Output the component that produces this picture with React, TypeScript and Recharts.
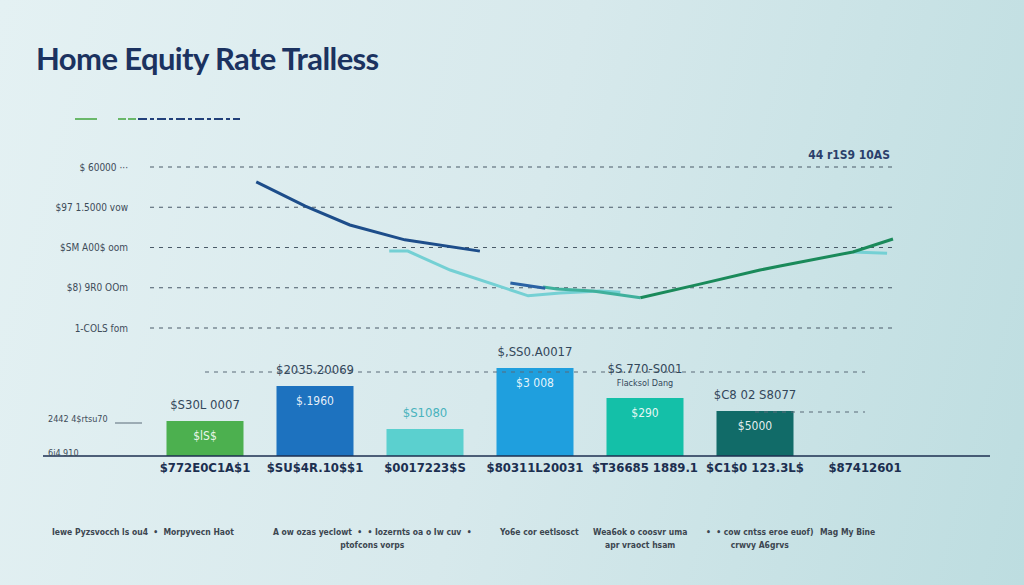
import React from "react";
import {
  Bar,
  BarChart,
  CartesianGrid,
  Cell,
  LabelList,
  Line,
  LineChart,
  ReferenceLine,
  XAxis,
  YAxis,
} from "recharts";

// top chart: rate by week (x 0..100), rate index (1..5)
const rateTicks = [1, 2, 3, 4, 5];
const rateTickLabels = ["1-COLS  fom", "$8) 9R0 OOm", "$SM A00$ oom", "$97 1.5000 vow", "$ 60000 ···"];

const navyWeeks = [14.3, 20.9, 26.9, 34.3, 44.4];
const navyRates = [4.63, 4.03, 3.56, 3.19, 2.91];

const navyShortWeeks = [48.5, 53.2];
const navyShortRates = [2.12, 1.99];

const cyanWeeks = [32.2, 34.7, 40.4, 50.9, 55.2, 60.6, 63.3];
const cyanRates = [2.91, 2.91, 2.44, 1.8, 1.87, 1.92, 1.89];

const cyanTailWeeks = [94.6, 99.2];
const cyanTailRates = [2.89, 2.86];

const tealWeeks = [52.9, 54.8, 59.6, 66];
const tealRates = [2.02, 1.97, 1.92, 1.75];

const greenWeeks = [66, 74, 82.1, 84.8, 94.6, 100];
const greenRates = [1.75, 2.09, 2.44, 2.54, 2.89, 3.21];

// bottom chart
const categories = [
  "$772E0C1A$1",
  "$SU$4R.10$$1",
  "$0017223$S",
  "$80311L20031",
  "$T36685 1889.1",
  "$C1$0 123.3L$",
  "$87412601",
];
const amounts = [35, 70, 27, 88, 58, 45, 0];
const topLabels = [
  "$S30L 0007",
  "$2035.20069",
  "$S1080",
  "$,SS0.A0017",
  "$S.770-S001",
  "$C8 02 S8077",
  "$S90's S0l0",
];
const subLabels = ["", "", "", "", "Flacksol Dang", "", ""];
const innerLabels = ["$lS$", "$.1960", "", "$3 008", "$290", "$5000", ""];
const amountTicks = [3, 37];
const amountTickLabels: Record<number, string> = { 3: "6i4 910", 37: "2442 4$rtsu70" };

const footerItems = [
  ["Iewe Pyzsvocch ls ou4  •  Morpyvecn Haot"],
  ["A ow ozas yeclowt  •  • Iozernts oa o Iw cuv  •", "ptofcons vorps"],
  ["Yo6e cor eetlsosct"],
  ["Wea6ok o coosvr uma", "apr vraoct hsam"],
  ["•  • cow cntss eroe euof)", "crwvy A6grvs"],
  ["Mag My Bine"],
];

const BAR_COLORS = ["#4cb04f", "#1d72bf", "#5bd0cf", "#1f9fde", "#14c0a8", "#116b68", "#116b68"];
const FONT = "'Liberation Sans Narrow', 'DejaVu Sans Condensed', Arial, sans-serif";

const toPoints = (weeks: number[], rates: number[]) =>
  weeks.map((week, i) => ({ week, rate: rates[i] }));

const barData = categories.map((name, i) => ({
  name,
  amount: amounts[i],
  top: topLabels[i],
  sub: subLabels[i],
  inner: innerLabels[i],
}));

function TopLabel(props: any) {
  const { x, y, width, index } = props;
  const row = barData[index];
  const cx = x + width / 2;
  const color = index === 2 ? "#48b3bd" : "#33475a";
  return (
    <g fontFamily={FONT}>
      <text x={cx} y={row.sub ? y - 25 : y - 12} textAnchor="middle" fontSize={13} fill={color}>
        {row.top}
      </text>
      {row.sub && (
        <text x={cx} y={y - 12} textAnchor="middle" fontSize={9} fill="#33475a">
          {row.sub}
        </text>
      )}
    </g>
  );
}

function InnerLabel(props: any) {
  const { x, y, width, index } = props;
  const row = barData[index];
  if (!row.inner) return null;
  return (
    <text
      x={x + width / 2}
      y={y + 19}
      textAnchor="middle"
      fontSize={12}
      fontFamily={FONT}
      fill="#ffffff"
      fillOpacity={0.9}
    >
      {row.inner}
    </text>
  );
}

function AmountTick(props: any) {
  const { y, payload } = props;
  const label = amountTickLabels[payload.value];
  return (
    <g>
      <text x={48} y={y + 3} fontSize={9} fontFamily={FONT} fill="#3d4b58">
        {label}
      </text>
      {payload.value === 37 && (
        <line x1={115} x2={142} y1={y + 4} y2={y + 4} stroke="#5a6a78" strokeWidth={1} />
      )}
    </g>
  );
}

export default function App() {
  return (
    <div
      style={{
        position: "absolute",
        left: 0,
        top: 0,
        width: 1024,
        height: 585,
        overflow: "hidden",
        background: "linear-gradient(105deg, #e4f1f3 0%, #d7e9ec 50%, #bddde0 100%)",
        fontFamily: FONT,
      }}
    >
      <div
        style={{
          position: "absolute",
          left: 36,
          top: 39,
          fontFamily: "Lato, 'Open Sans', sans-serif",
          fontWeight: 700,
          fontSize: 31,
          letterSpacing: -0.6,
          color: "#1b3260",
        }}
      >
        Home Equity Rate Tralless
      </div>

      <svg style={{ position: "absolute", left: 0, top: 110 }} width={260} height={20}>
        <line x1={75} x2={97} y1={9} y2={9} stroke="#6ab86a" strokeWidth={2} />
        <line x1={118} x2={136} y1={9} y2={9} stroke="#6ab86a" strokeWidth={2} strokeDasharray="8 2" />
        <line x1={138} x2={240} y1={9} y2={9} stroke="#22407a" strokeWidth={2} strokeDasharray="9 3 4 3" />
      </svg>

      <div
        style={{
          position: "absolute",
          right: 1024 - 890,
          top: 148,
          fontSize: 12,
          fontWeight: 700,
          color: "#2b3f6b",
        }}
      >
        44 r1S9 10AS
      </div>

      <div style={{ position: "absolute", left: 0, top: 150 }}>
        <LineChart width={1024} height={200} margin={{ top: 17, right: 131, bottom: 22, left: 0 }}>
          <CartesianGrid
            horizontal
            vertical={false}
            stroke="#4a5a68"
            strokeWidth={1.2}
            strokeDasharray="4 5"
          />
          <XAxis type="number" dataKey="week" domain={[0, 100]} hide allowDuplicatedCategory={false} />
          <YAxis
            type="number"
            domain={[1, 5]}
            ticks={rateTicks}
            width={150}
            axisLine={false}
            tickLine={false}
            tickSize={0}
            tickMargin={22}
            tick={{ fontSize: 10, fill: "#3d4b58", fontFamily: FONT }}
            tickFormatter={(v) => rateTickLabels[rateTicks.indexOf(Number(v))]}
          />
          <Line data={toPoints(cyanWeeks, cyanRates)} dataKey="rate" stroke="#74d0d4" strokeWidth={3} dot={false} isAnimationActive={false} />
          <Line data={toPoints(cyanTailWeeks, cyanTailRates)} dataKey="rate" stroke="#74d0d4" strokeWidth={3} dot={false} isAnimationActive={false} />
          <Line data={toPoints(tealWeeks, tealRates)} dataKey="rate" stroke="#3fb09c" strokeWidth={3} dot={false} isAnimationActive={false} />
          <Line data={toPoints(navyShortWeeks, navyShortRates)} dataKey="rate" stroke="#2a62a4" strokeWidth={3} dot={false} isAnimationActive={false} />
          <Line data={toPoints(navyWeeks, navyRates)} dataKey="rate" stroke="#1d4d8a" strokeWidth={3} dot={false} isAnimationActive={false} />
          <Line data={toPoints(greenWeeks, greenRates)} dataKey="rate" stroke="#1a8a5a" strokeWidth={3} dot={false} isAnimationActive={false} />
        </LineChart>
      </div>

      <div style={{ position: "absolute", left: 0, top: 340 }}>
        <BarChart
          width={1024}
          height={140}
          data={barData}
          margin={{ top: 16, right: 34, bottom: 0, left: 43 }}
          barCategoryGap="15%"
        >
          <XAxis
            dataKey="name"
            height={24}
            padding={{ left: 107, right: 70 }}
            axisLine={{ stroke: "#1c2f50", strokeWidth: 1.5 }}
            tickLine={false}
            tickSize={0}
            tickMargin={7}
            interval={0}
            tick={{ fontSize: 13, fontWeight: 700, fill: "#1c2f50", fontFamily: FONT }}
          />
          <YAxis
            type="number"
            domain={[0, 100]}
            ticks={amountTicks}
            mirror
            width={60}
            axisLine={false}
            tickLine={false}
            tick={<AmountTick />}
          />
          <ReferenceLine
            segment={[
              { x: categories[0], y: 84 },
              { x: categories[6], y: 84 },
            ]}
            stroke="#5a6a78"
            strokeDasharray="4 5"
            strokeWidth={1.2}
          />
          <ReferenceLine
            segment={[
              { x: categories[5], y: 44 },
              { x: categories[6], y: 44 },
            ]}
            stroke="#5a6a78"
            strokeDasharray="4 5"
            strokeWidth={1.2}
          />
          <Bar dataKey="amount" isAnimationActive={false}>
            {barData.map((row, i) => (
              <Cell key={row.name} fill={BAR_COLORS[i]} />
            ))}
            <LabelList dataKey="top" content={<TopLabel />} />
            <LabelList dataKey="inner" content={<InnerLabel />} />
          </Bar>
        </BarChart>
      </div>

      {footerItems.map((lines, i) => (
        <div
          key={i}
          style={{
            position: "absolute",
            left: [52, 273, 500, 593, 706, 820][i],
            top: 526,
            fontSize: 8.5,
            fontWeight: 700,
            color: "#3c4650",
            textAlign: "center",
            lineHeight: "13px",
            whiteSpace: "pre",
          }}
        >
          {lines.map((t) => (
            <div key={t}>{t}</div>
          ))}
        </div>
      ))}
    </div>
  );
}
